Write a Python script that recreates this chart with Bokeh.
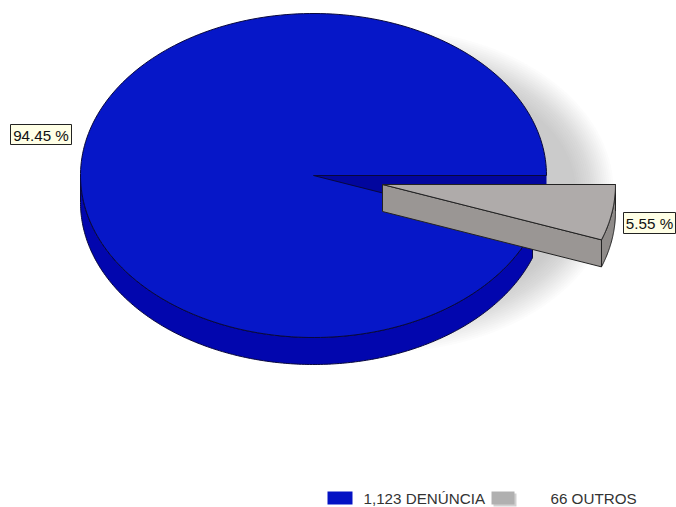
import numpy as np
from bokeh.plotting import figure
from bokeh.models import Range1d
from bokeh.core.properties import value
from bokeh.embed import file_html
from bokeh.resources import INLINE

categories = ["DENÚNCIA", "OUTROS"]
counts = [1123, 66]
percent_labels = ["94.45 %", "5.55 %"]
legend_labels = ["1,123 DENÚNCIA", "66 OUTROS"]

# Pie geometry in screen pixels (the ranges below map data units to page pixels)
CX, CY, RX, RY, DEPTH = 313.0, 175.0, 233.0, 162.0, 27.0
EXPLODE = (69.0, 9.0)

p = figure(width=676, height=507, output_backend="svg", toolbar_location=None,
           x_range=Range1d(0, 676), y_range=Range1d(507, 0),
           min_border=0, outline_line_color=None, background_fill_color="white")
p.axis.visible = False
p.grid.visible = False


def arc(a0, a1, n=240, cx=CX, cy=CY):
    t = np.linspace(a0, a1, n)
    return cx + RX * np.cos(t), cy + RY * np.sin(t)


cut = 2 * np.pi * counts[1] / sum(counts)

# soft shadow of the pie
sx, sy = CX + 67, CY + 15
for grow in range(12, -28, -2):
    t = np.linspace(0, 2 * np.pi, 240)
    p.patch(sx + (RX + grow - 12) * np.cos(t), sy + (RY + grow - 12) * np.sin(t),
            fill_color="#909090", fill_alpha=0.028, line_color=None)

# blue side wall
ax, ay = arc(cut, np.pi)
p.patch(np.r_[ax, ax[::-1]], np.r_[ay, ay[::-1] + DEPTH], fill_color="#0206ae",
        line_color="#08083c", line_width=1)

# blue cut face seen in the gap left by the exploded slice
p.patch([CX, CX + RX, CX + RX, CX], [CY, CY, CY + DEPTH, CY + DEPTH],
        fill_color="#02069e", line_color=None)

# blue top face
ax, ay = arc(cut, 2 * np.pi)
p.patch(np.r_[CX, ax], np.r_[CY, ay], fill_color="#0617c8", line_color="#08083c", line_width=1)

# exploded grey slice
gx, gy = arc(0, cut, n=60, cx=CX + EXPLODE[0], cy=CY + EXPLODE[1])
ox, oy = CX + EXPLODE[0], CY + EXPLODE[1]
p.patch(np.r_[gx, gx[::-1]], np.r_[gy, gy[::-1] + DEPTH], fill_color="#8f8b89",
        line_color="#222222", line_width=1)
p.patch([ox, gx[-1], gx[-1], ox], [oy, gy[-1], gy[-1] + DEPTH, oy + DEPTH],
        fill_color="#9a9694", line_color="#222222", line_width=1)
p.patch(np.r_[ox, gx], np.r_[oy, gy], fill_color="#afabaa", line_color="#222222", line_width=1)

# percent labels
box_l = [10, 623]
box_r = [71, 675]
box_t = [124, 212]
box_b = [144, 233]
p.quad(left=box_l, right=box_r, top=box_t, bottom=box_b, fill_color="#ffffe6",
       line_color="#222222", line_width=1)
p.text(x=[(a + b) / 2 for a, b in zip(box_l, box_r)], y=[(a + b) / 2 + 0.5 for a, b in zip(box_t, box_b)],
       text=percent_labels, text_align="center", text_baseline="middle",
       text_font=value("Liberation Sans"), text_font_size="15.2px", text_color="#111111")

# legend
p.quad(left=[493], right=[516], top=[493], bottom=[506], fill_color="#d0d0d0", line_color=None)
p.quad(left=[327, 491], right=[352, 514], top=[491, 491], bottom=[504, 504],
       fill_color=["#0412c4", "#b0b0b0"], line_color=None)
p.text(x=[363, 550], y=[498, 498], text=legend_labels, text_align="left", text_baseline="middle",
       text_font=value("Liberation Sans"), text_font_size="15.2px", text_color="#333333")

open("out.html", "w").write(file_html(p, INLINE))
